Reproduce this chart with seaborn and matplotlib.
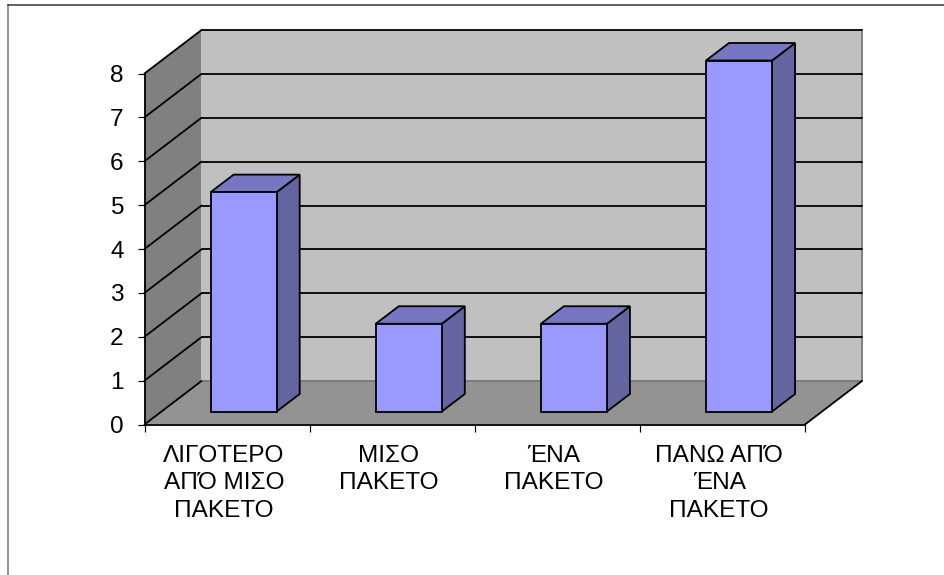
import matplotlib
matplotlib.use("Agg")
import matplotlib.pyplot as plt
import seaborn as sns
import pandas as pd

categories = ["ΛΙΓΟΤΕΡΟ\nΑΠΌ ΜΙΣΟ\nΠΑΚΕΤΟ", "ΜΙΣΟ\nΠΑΚΕΤΟ", "ΈΝΑ\nΠΑΚΕΤΟ", "ΠΑΝΩ ΑΠΌ\nΈΝΑ\nΠΑΚΕΤΟ"]
values = [5, 2, 2, 8]
y_ticks = [0, 1, 2, 3, 4, 5, 6, 7, 8]

W, H = 944, 575
FRONT_FACE = "#9999FF"
SIDE_FACE = "#6464A0"
TOP_FACE = "#7676C2"
LEFT_WALL = "#808080"
BACK_WALL = "#C0C0C0"
FLOOR = "#939393"
LW = 1.3

sns.set_style("white")
plt.rcParams["font.family"] = ["Liberation Sans", "DejaVu Sans"]

fig = plt.figure(figsize=(W / 100, H / 100), dpi=100, facecolor="white")


def px_axes(x0, x1, ytop, ybot, **kw):
    return fig.add_axes([x0 / W, 1 - ybot / H, (x1 - x0) / W, (ybot - ytop) / H], **kw)


# outer frame (only top and left edges fall inside the picture)
frame = px_axes(8, W + 20, 4.5, H + 20)
frame.set_xticks([]); frame.set_yticks([])
for s in ["right", "bottom"]:
    frame.spines[s].set_visible(False)
frame.spines["top"].set_color("#333333")
frame.spines["left"].set_color("#777777")
frame.spines["top"].set_linewidth(1.1)
frame.spines["left"].set_linewidth(1.1)

# front plane of the 3-D box
X0, X1, Y8, Y0 = 144.5, 805.0, 73.5, 424.5
ax = px_axes(X0, X1, Y8, Y0)
ax.patch.set_alpha(0)
n = len(categories)
top = max(y_ticks)
ax.set_xlim(-0.5, n - 0.5)
ax.set_ylim(0, top)
px_x = (X1 - X0) / n
px_y = (Y0 - Y8) / top
ddx = 57 / px_x      # wall depth in data units
ddy = 43.5 / px_y
l, r = -0.5, n - 0.5

ax.fill([l, l + ddx, l + ddx, l], [0, ddy, top + ddy, top], color=LEFT_WALL, lw=0, clip_on=False, zorder=1)
ax.fill([l + ddx, r + ddx, r + ddx, l + ddx], [ddy, ddy, top + ddy, top + ddy], color=BACK_WALL, lw=0, clip_on=False, zorder=1)
ax.fill([l, r, r + ddx, l + ddx], [0, 0, ddy, ddy], color=FLOOR, lw=0, clip_on=False, zorder=1)
ax.plot([l + ddx, r + ddx, r + ddx], [ddy, ddy, top + ddy], color="#777777", lw=LW, clip_on=False, zorder=2)
ax.plot([r, r + ddx], [0, ddy], color="black", lw=LW, clip_on=False, zorder=2)
for v in y_ticks:
    if v > 0:
        ax.plot([l + ddx, r + ddx], [v + ddy, v + ddy], color="black", lw=LW, clip_on=False, zorder=2)
    ax.plot([l, l + ddx], [v, v + ddy], color="black", lw=LW, clip_on=False, zorder=2)

for s in ["top", "right"]:
    ax.spines[s].set_visible(False)
for s in ["left", "bottom"]:
    ax.spines[s].set_color("black")
    ax.spines[s].set_linewidth(LW)
    ax.spines[s].set_zorder(3)
ax.set_yticks(y_ticks)
ax.set_yticklabels([str(v) for v in y_ticks], fontsize=17.6, color="black")
ax.set_xticks([i - 0.5 for i in range(n + 1)])
ax.set_xticklabels([""] * (n + 1))
ax.set_xticks([i - 0.02 for i in range(n)], minor=True)
ax.set_xticklabels(categories, minor=True, fontsize=17.6, color="black", linespacing=1.33)
ax.tick_params(axis="both", which="major", length=5, width=0.85, color="black", left=True, bottom=True, direction="out")
ax.tick_params(axis="y", pad=10)
ax.tick_params(axis="x", which="minor", length=0, pad=14.5)

# bars, set slightly into the box depth
SX, SY = 16.6, 13.0
bax = px_axes(X0 + SX, X1 + SX, Y8 - SY, Y0 - SY)
bax.patch.set_alpha(0)
df = pd.DataFrame({"category": categories, "value": values})
sns.barplot(data=df, x="category", y="value", ax=bax, width=0.4, color=FRONT_FACE,
            saturation=1, edgecolor="black", linewidth=LW, clip_on=False, zorder=5)
bax.set_xlim(-0.5, n - 0.5)
bax.set_ylim(0, top)
bax.axis("off")
bdx = 23 / px_x
bdy = 17.5 / px_y
for p in bax.patches:
    p.set_clip_on(False)
    p.set_joinstyle("miter")
    x0, w, h = p.get_x(), p.get_width(), p.get_height()
    x1 = x0 + w
    bax.fill([x1, x1 + bdx, x1 + bdx, x1], [0, bdy, h + bdy, h], facecolor=SIDE_FACE, edgecolor="black",
             lw=LW, clip_on=False, zorder=4, joinstyle="miter")
    bax.fill([x0, x1, x1 + bdx, x0 + bdx], [h, h, h + bdy, h + bdy], facecolor=TOP_FACE, edgecolor="black",
             lw=LW, clip_on=False, zorder=4, joinstyle="miter")

fig.savefig("out.png", dpi=100)
